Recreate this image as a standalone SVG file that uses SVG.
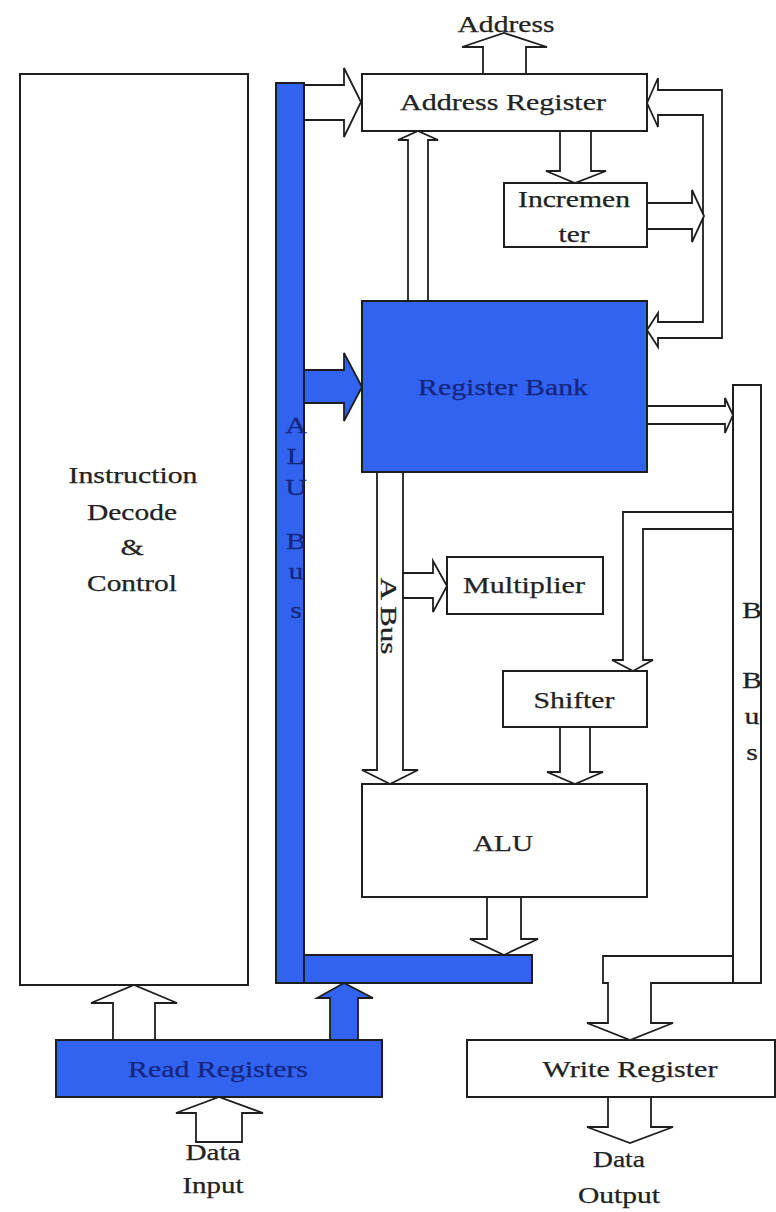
<svg xmlns="http://www.w3.org/2000/svg" width="776" height="1212" viewBox="0 0 776 1212">
<style>
.box{fill:#fff;stroke:#1e1e1e;stroke-width:2}
.blue{fill:#3162F0;stroke:#1e1e1e;stroke-width:2}
.arr{fill:#fff;stroke:#1e1e1e;stroke-width:1.8;stroke-linejoin:miter}
.barr{fill:#3162F0;stroke:#1e1e1e;stroke-width:1.8}
.t{font-family:"Liberation Serif","Times New Roman",serif;font-size:23px;fill:#222;stroke:#222;stroke-width:0.25;text-anchor:middle}
.n{fill:#15267f;stroke:#15267f}
</style>
<rect width="776" height="1212" fill="#fff"/>

<g id="connectors">
  <polygon class="arr" points="483,74 483,47 462,47 504,33 547,47 526,47 526,74"/>
  <polygon class="arr" points="304,85 344,85 344,68 361,102 344,137 344,120 304,120"/>
  <polygon class="arr" points="560,131 560,171 546,171 575,183 606,171 591,171 591,131"/>
  <polygon class="arr" points="408,301 408,140 398,140 418,131 438,140 428,140 428,301"/>
  <polygon class="arr" points="647,103 658,78 658,90 722,90 722,338 658,338 658,347 647,330 658,313 658,322 703,322 703,115 658,115 658,127"/>
  <polygon class="arr" points="647,203 692,203 692,190 704,216 692,242 692,229 647,229"/>
  <polygon class="barr" points="304,370 344,370 344,353 362,387 344,421 344,403 304,403"/>
  <polygon class="arr" points="647,406 725,406 725,398 733,415 725,433 725,424 647,424"/>
  <polygon class="arr" points="377,471 377,770 362,770 390,784 418,770 403,770 403,471"/>
  <polygon class="arr" points="403,573 433,573 433,561 447,586 433,612 433,598 403,598"/>
  <polygon class="arr" points="733,512 623,512 623,660 612,660 633,671 653,660 643,660 643,529 733,529"/>
  <polygon class="arr" points="560,727 560,772 547,772 575,784 603,772 590,772 590,727"/>
  <polygon class="arr" points="487,897 487,939 470,939 504,955 538,939 521,939 521,897"/>
  <polygon class="arr" points="733,956 603,956 603,983 608,983 608,1023 587,1023 630,1040 673,1023 651,1023 651,983 733,983"/>
  <polygon class="arr" points="608,1097 608,1127 587,1127 630,1143 673,1127 651,1127 651,1097"/>
  <polygon class="arr" points="113,1040 113,1003 91,1003 134,985 177,1003 155,1003 155,1040"/>
  <polygon class="barr" points="330,1040 330,998 317,998 344,983 373,998 358,998 358,1040"/>
  <polygon class="arr" points="196,1142 196,1113 176,1113 219,1097 263,1113 242,1113 242,1142"/>
  <text class="t" x="506" y="32" textLength="97" lengthAdjust="spacingAndGlyphs">Address</text>
  <text class="t" transform="translate(381,616) rotate(90)" x="0" y="0" textLength="77" lengthAdjust="spacingAndGlyphs">A Bus</text>
  <text class="t" x="213" y="1160" textLength="55" lengthAdjust="spacingAndGlyphs">Data</text>
  <text class="t" x="213" y="1193" textLength="61" lengthAdjust="spacingAndGlyphs">Input</text>
  <text class="t" x="619" y="1167" textLength="52" lengthAdjust="spacingAndGlyphs">Data</text>
  <text class="t" x="619" y="1203" textLength="82" lengthAdjust="spacingAndGlyphs">Output</text>
</g>

<g id="instruction-decode">
  <rect class="box" x="20" y="74" width="228" height="911"/>
  <text class="t" x="133" y="483" textLength="129" lengthAdjust="spacingAndGlyphs">Instruction</text>
  <text class="t" x="132" y="520" textLength="90" lengthAdjust="spacingAndGlyphs">Decode</text>
  <text class="t" transform="translate(132,555) scale(1.3,1)">&amp;</text>
  <text class="t" x="132" y="591" textLength="90" lengthAdjust="spacingAndGlyphs">Control</text>
</g>

<g id="alu-bus">
  <rect class="blue" x="276" y="83" width="28" height="900"/>
  <rect class="blue" x="304" y="955" width="228" height="28"/>
  <text class="t n" transform="translate(296,433) scale(1.3,1)">A</text>
  <text class="t n" transform="translate(296,464) scale(1.3,1)">L</text>
  <text class="t n" transform="translate(296,495) scale(1.3,1)">U</text>
  <text class="t n" transform="translate(296,549) scale(1.3,1)">B</text>
  <text class="t n" transform="translate(296,579) scale(1.3,1)">u</text>
  <text class="t n" transform="translate(296,618) scale(1.3,1)">s</text>
</g>

<g id="address-register">
  <rect class="box" x="362" y="74" width="285" height="57"/>
  <text class="t" x="503" y="110" textLength="206" lengthAdjust="spacingAndGlyphs">Address Register</text>
</g>

<g id="incrementer">
  <rect class="box" x="504" y="183" width="143" height="64"/>
  <text class="t" x="574" y="207" textLength="112" lengthAdjust="spacingAndGlyphs">Incremen</text>
  <text class="t" x="574" y="242" textLength="31" lengthAdjust="spacingAndGlyphs">ter</text>
</g>

<g id="register-bank">
  <rect class="blue" x="362" y="301" width="285" height="171"/>
  <text class="t n" x="503" y="395" textLength="170" lengthAdjust="spacingAndGlyphs">Register Bank</text>
</g>

<g id="b-bus">
  <rect class="box" x="733" y="385" width="28" height="598"/>
  <text class="t" transform="translate(752,618) scale(1.3,1)">B</text>
  <text class="t" transform="translate(752,688) scale(1.3,1)">B</text>
  <text class="t" transform="translate(752,724) scale(1.3,1)">u</text>
  <text class="t" transform="translate(752,760) scale(1.3,1)">s</text>
</g>

<g id="multiplier">
  <rect class="box" x="447" y="557" width="156" height="57"/>
  <text class="t" x="524" y="593" textLength="122" lengthAdjust="spacingAndGlyphs">Multiplier</text>
</g>

<g id="shifter">
  <rect class="box" x="503" y="671" width="144" height="56"/>
  <text class="t" x="574" y="708" textLength="81" lengthAdjust="spacingAndGlyphs">Shifter</text>
</g>

<g id="alu">
  <rect class="box" x="362" y="784" width="285" height="113"/>
  <text class="t" x="503" y="851" textLength="60" lengthAdjust="spacingAndGlyphs">ALU</text>
</g>

<g id="read-registers">
  <rect class="blue" x="56" y="1040" width="326" height="57"/>
  <text class="t n" x="218" y="1077" textLength="180" lengthAdjust="spacingAndGlyphs">Read Registers</text>
</g>

<g id="write-register">
  <rect class="box" x="467" y="1040" width="308" height="57"/>
  <text class="t" x="630" y="1077" textLength="175" lengthAdjust="spacingAndGlyphs">Write Register</text>
</g>
</svg>
